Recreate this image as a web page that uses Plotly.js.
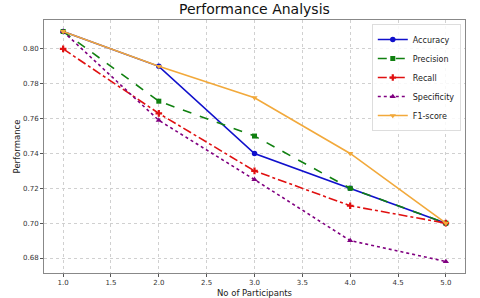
<!DOCTYPE html>
<html>
<head>
<meta charset="utf-8">
<script src="https://cdn.plot.ly/plotly-3.0.1.min.js"></script>
<style>html,body{margin:0;padding:0;background:#fff;}#chart{width:480px;height:298px;}</style>
</head>
<body>
<div id="chart"></div>
<script>
const participants = [1, 2, 3, 4, 5];
const accuracy = [0.81, 0.79, 0.74, 0.72, 0.70];
const precision = [0.81, 0.77, 0.75, 0.72, 0.70];
const recall = [0.80, 0.763, 0.73, 0.71, 0.70];
const specificity = [0.81, 0.759, 0.725, 0.69, 0.678];
const f1score = [0.81, 0.79, 0.772, 0.74, 0.70];
const xTicks = [1.0, 1.5, 2.0, 2.5, 3.0, 3.5, 4.0, 4.5, 5.0];
const xTickText = ['1.0', '1.5', '2.0', '2.5', '3.0', '3.5', '4.0', '4.5', '5.0'];
const yTicks = [0.68, 0.70, 0.72, 0.74, 0.76, 0.78, 0.80];
const yTickText = ['0.68', '0.70', '0.72', '0.74', '0.76', '0.78', '0.80'];

function tr(name, y, color, dash, symbol, size) {
  return {
    x: participants, y: y, name: name, type: 'scatter', mode: 'lines+markers',
    line: {color: color, width: 1.6, dash: dash},
    marker: {color: color, symbol: symbol, size: size, line: {width: 0}}
  };
}
const data = [
  tr('Accuracy', accuracy, '#1010cc', 'solid', 'circle', 5.5),
  tr('Precision', precision, '#108010', 'dash', 'square', 5),
  tr('Recall', recall, '#e01010', 'dashdot', 'cross', 5.5),
  tr('Specificity', specificity, '#800080', 'dot', 'triangle-up', 5.5),
  tr('F1-score', f1score, '#f2a93b', 'solid', 'triangle-down', 5.5)
];
const axisCommon = {
  showline: true, mirror: true, linecolor: '#888', linewidth: 1,
  showgrid: true, gridcolor: '#d0d0d0', griddash: 'dot', gridwidth: 1,
  ticks: 'outside', ticklen: 3, tickcolor: '#555', tickwidth: 1,
  tickfont: {family: 'DejaVu Sans', size: 7, color: '#333'},
  zeroline: false
};
const layout = {
  width: 480, height: 298,
  margin: {l: 44, r: 15, t: 20, b: 25},
  paper_bgcolor: '#fff', plot_bgcolor: '#fff',
  title: {text: 'Performance Analysis', font: {family: 'DejaVu Sans', size: 14, color: '#111'}, x: 0.53, xanchor: 'center', y: 0.985, yanchor: 'top'},
  xaxis: Object.assign({}, axisCommon, {
    range: [0.8, 5.2], tickvals: xTicks, ticktext: xTickText,
    title: {text: 'No of Participants', font: {family: 'DejaVu Sans', size: 8.5, color: '#222'}, standoff: 4}
  }),
  yaxis: Object.assign({}, axisCommon, {
    range: [0.6714, 0.8166], tickvals: yTicks, ticktext: yTickText,
    title: {text: 'Performance', font: {family: 'DejaVu Sans', size: 8.5, color: '#222'}, standoff: 1}
  }),
  legend: {
    x: 0.99, y: 0.984, xanchor: 'right', yanchor: 'top',
    bgcolor: 'rgba(255,255,255,0.85)', bordercolor: '#ddd', borderwidth: 1,
    font: {family: 'DejaVu Sans', size: 8, color: '#222'},
    tracegroupgap: 0, itemwidth: 30
  },
  showlegend: true
};
Plotly.newPlot('chart', data, layout, {displayModeBar: false, staticPlot: true});
</script>
</body>
</html>
